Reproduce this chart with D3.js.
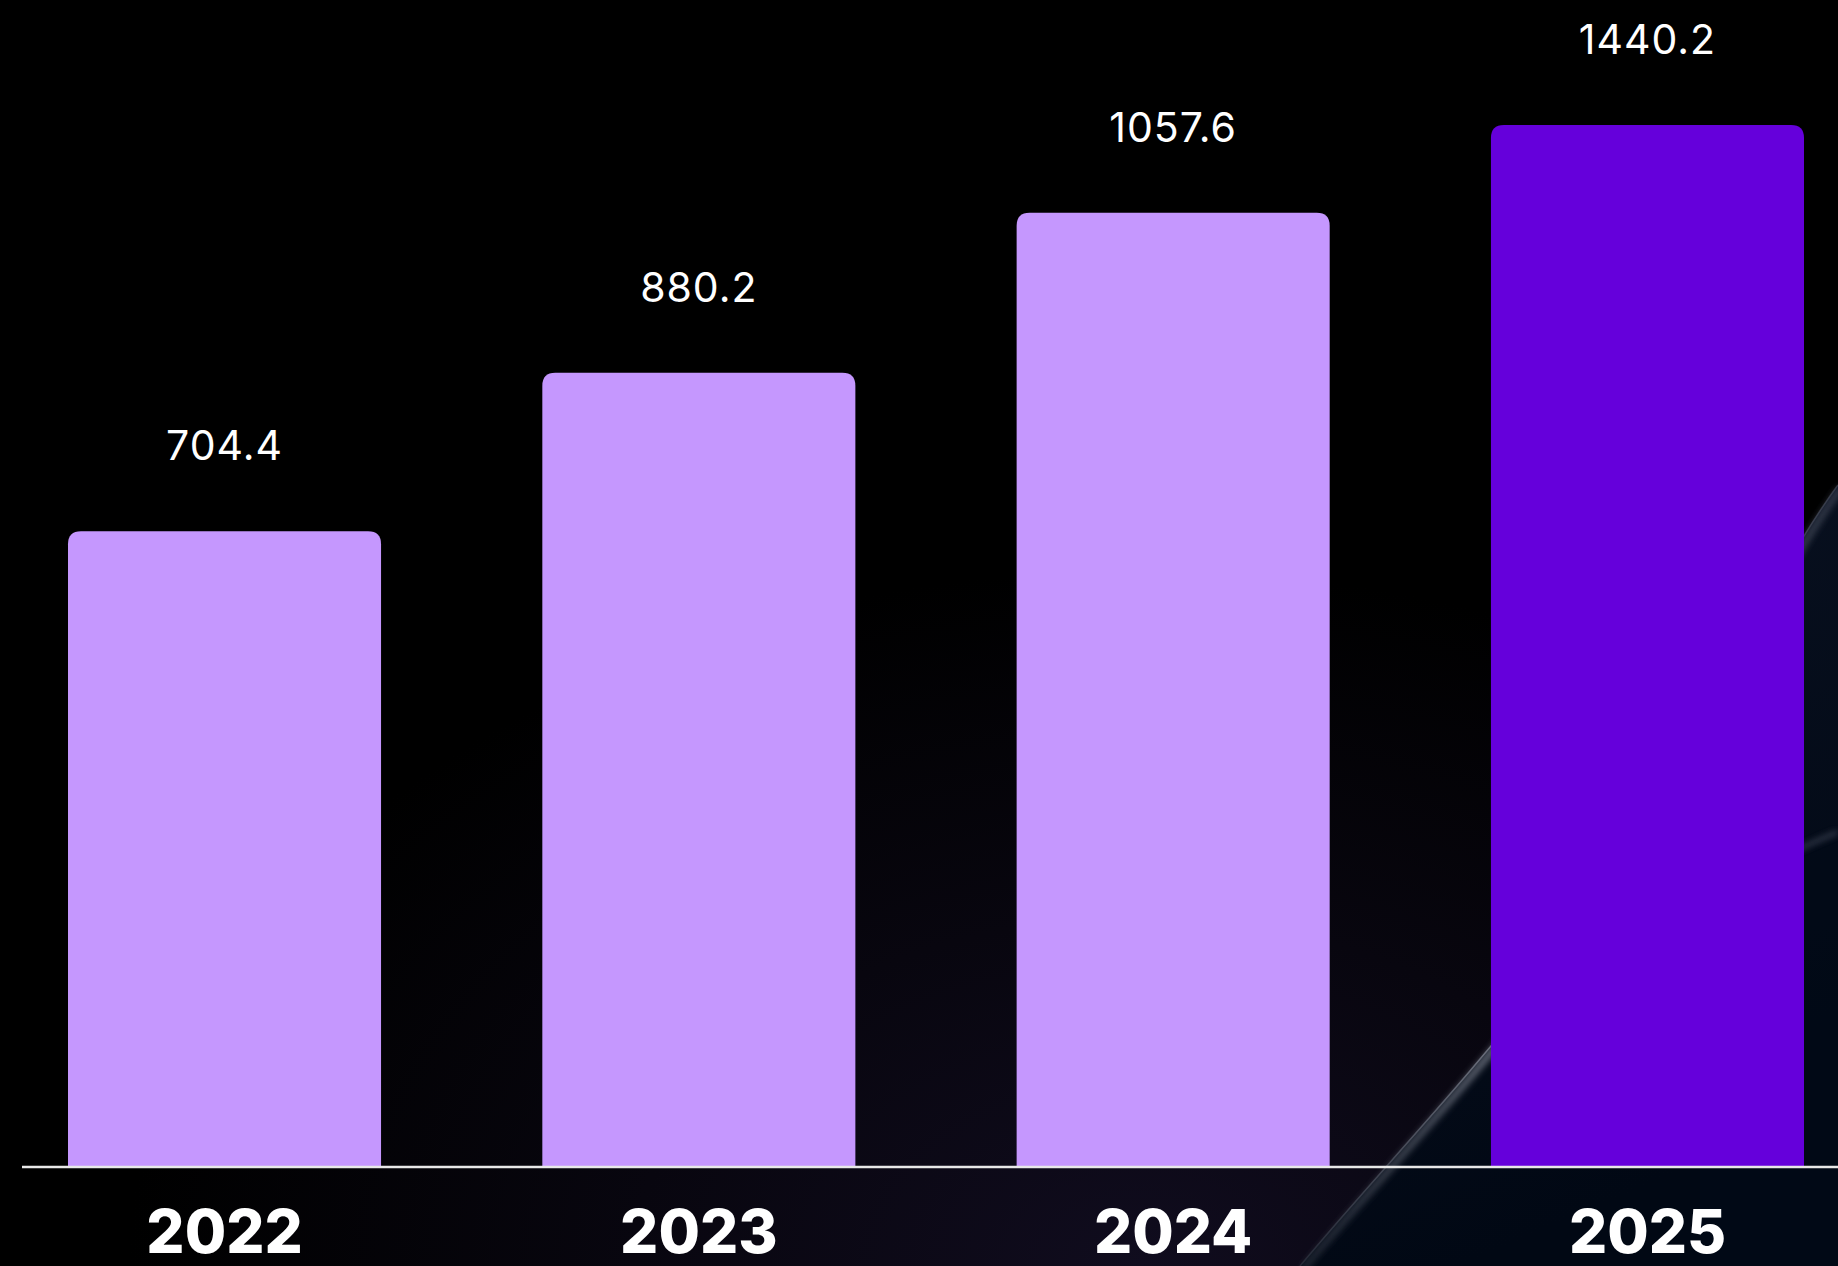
<!DOCTYPE html>
<html>
<head>
<meta charset="utf-8">
<script src="https://cdn.jsdelivr.net/npm/d3@7"></script>
<style>
  html, body { margin: 0; padding: 0; background: #000; }
  svg { display: block; }
</style>
</head>
<body>
<svg id="chart" width="1838" height="1266"></svg>
<script>
// values
const years = ["2022", "2023", "2024", "2025"];
const values = [704.4, 880.2, 1057.6, 1440.2];

const W = 1838, H = 1266;
const baseY = 1166;

const svg = d3.select("#chart");
const defs = svg.append("defs");

// background glow + the glassy wave on the bottom right
const bg = defs.append("radialGradient").attr("id", "bgGlow")
    .attr("cx", "0.62").attr("cy", "1.0").attr("r", "0.55");
bg.append("stop").attr("offset", "0").attr("stop-color", "#100c1e");
bg.append("stop").attr("offset", "1").attr("stop-color", "#000");

const wave = defs.append("linearGradient").attr("id", "waveFill")
    .attr("x1", "0").attr("y1", "0").attr("x2", "0.3").attr("y2", "1");
wave.append("stop").attr("offset", "0").attr("stop-color", "#0a1222");
wave.append("stop").attr("offset", "1").attr("stop-color", "#010814");

const edge = defs.append("linearGradient").attr("id", "edgeStroke")
    .attr("gradientUnits", "userSpaceOnUse")
    .attr("x1", 1300).attr("y1", 1266).attr("x2", 1838).attr("y2", 480);
edge.append("stop").attr("offset", "0").attr("stop-color", "#3a3f4c").attr("stop-opacity", 0.5);
edge.append("stop").attr("offset", "0.3").attr("stop-color", "#7a7f8c").attr("stop-opacity", 0.8);
edge.append("stop").attr("offset", "1").attr("stop-color", "#4a5060").attr("stop-opacity", 0.6);

defs.append("filter").attr("id", "soft")
    .append("feGaussianBlur").attr("stdDeviation", 3);

svg.append("rect").attr("width", W).attr("height", H).attr("fill", "url(#bgGlow)");

const edgePath = "M1300,1266 C1380,1170 1460,1090 1560,960 C1660,820 1760,590 1838,485";
svg.append("path")
    .attr("d", edgePath + " L1838,1266 Z")
    .attr("fill", "url(#waveFill)");
svg.append("path")
    .attr("d", edgePath)
    .attr("fill", "none").attr("stroke", "url(#edgeStroke)").attr("stroke-width", 7)
    .attr("filter", "url(#soft)").attr("transform", "translate(3,3)");
svg.append("path")
    .attr("d", edgePath)
    .attr("fill", "none").attr("stroke", "url(#edgeStroke)").attr("stroke-width", 1.5);
svg.append("path")
    .attr("d", "M1700,900 C1750,870 1800,848 1838,832 L1838,1266 L1700,1266 Z")
    .attr("fill", "#020a18").attr("opacity", 0.6);
svg.append("path")
    .attr("d", "M1700,900 C1750,870 1800,848 1838,832")
    .attr("fill", "none").attr("stroke", "#4a5060").attr("stroke-width", 4)
    .attr("filter", "url(#soft)").attr("opacity", 0.8);

// scales
const x = d3.scaleBand().domain(years).range([68, 1804]).paddingInner(0.34).paddingOuter(0);
// the tallest bar runs past the top of the frame, so it is clamped
const y = d3.scaleLinear().domain([0, 1155]).range([baseY, 125]).clamp(true);

const r = 13;
function topRounded(x0, y0, w, h) {
    return `M${x0},${y0 + h} L${x0},${y0 + r} Q${x0},${y0} ${x0 + r},${y0} ` +
        `L${x0 + w - r},${y0} Q${x0 + w},${y0} ${x0 + w},${y0 + r} L${x0 + w},${y0 + h} Z`;
}

const data = years.map((d, i) => ({ year: d, value: values[i], last: i === years.length - 1 }));

svg.append("g").selectAll("path.bar")
    .data(data)
    .enter()
    .append("path")
    .attr("class", "bar")
    .attr("d", d => topRounded(x(d.year), y(d.value), x.bandwidth(), baseY - y(d.value)))
    .attr("fill", d => d.last ? "#6500DB" : "#C597FE");

// baseline
svg.append("line")
    .attr("x1", 22).attr("x2", W).attr("y1", baseY + 1).attr("y2", baseY + 1)
    .attr("stroke", "#e8e8e8").attr("stroke-width", 2.5);

// value labels
svg.append("g").selectAll("text.val")
    .data(data)
    .enter()
    .append("text")
    .attr("class", "val")
    .attr("x", d => x(d.year) + x.bandwidth() / 2)
    .attr("y", d => y(d.value) - 71)
    .attr("text-anchor", "middle")
    .attr("fill", "#fff")
    .style("font-family", "Inter, 'Open Sans', sans-serif")
    .style("font-size", "41px")
    .style("font-weight", 400)
    .style("letter-spacing", "1px")
    .text(d => d.value.toFixed(1));

// year labels
const xAxis = svg.append("g")
    .attr("transform", `translate(0,${baseY})`)
    .call(d3.axisBottom(x).tickSize(0).tickPadding(0));
xAxis.select(".domain").remove();
xAxis.selectAll("text")
    .attr("y", 87)
    .attr("dy", 0)
    .attr("fill", "#fff")
    .style("font-family", "Inter, 'Open Sans', sans-serif")
    .style("font-size", "60px")
    .style("font-weight", 800);
</script>
</body>
</html>
